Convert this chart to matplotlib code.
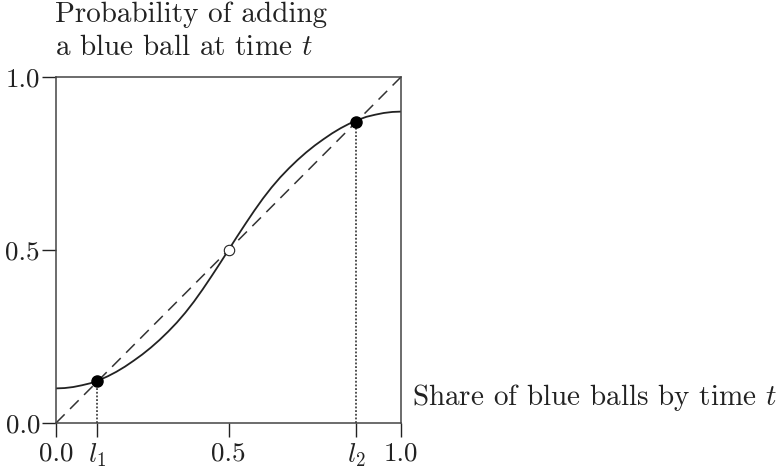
import matplotlib
matplotlib.use("Agg")
import matplotlib.pyplot as plt

plt.rcParams["font.family"] = ["cmr10"]
plt.rcParams["mathtext.fontset"] = "cm"
plt.rcParams["axes.formatter.use_mathtext"] = True

# curve: share of blue balls -> probability of adding one
share = [0.000, 0.025, 0.050, 0.075, 0.100, 0.125, 0.150, 0.175, 0.200, 0.225,
         0.250, 0.275, 0.300, 0.325, 0.350, 0.375, 0.400, 0.425, 0.450, 0.475,
         0.500, 0.525, 0.550, 0.575, 0.600, 0.625, 0.650, 0.675, 0.700, 0.725,
         0.750, 0.775, 0.800, 0.825, 0.850, 0.875, 0.900, 0.925, 0.950, 0.975,
         1.000]
prob = [0.100, 0.101, 0.104, 0.109, 0.115, 0.124, 0.135, 0.148, 0.163, 0.180,
        0.198, 0.218, 0.240, 0.264, 0.290, 0.319, 0.351, 0.386, 0.423, 0.461,
        0.500, 0.539, 0.577, 0.614, 0.649, 0.681, 0.710, 0.736, 0.760, 0.782,
        0.802, 0.820, 0.837, 0.852, 0.865, 0.876, 0.885, 0.891, 0.896, 0.899,
        0.900]

stable_pts = [0.12, 0.87]     # l1, l2
unstable_pt = 0.5
xticks = [0.0, 0.12, 0.5, 0.87, 1.0]
xtick_labels = ["0.0", "$l_1$", "0.5", "$l_2$", "1.0"]
yticks = [0.0, 0.5, 1.0]
ytick_labels = ["0.0", "0.5", "1.0"]

ink = "#222222"

fig = plt.figure(figsize=(7.82, 4.70), dpi=100)
ax = fig.add_axes([56 / 782, 47 / 470, 345 / 782, 346 / 470])

ax.plot([0, 1], [0, 1], ls=(0, (8, 5)), color="#333333", lw=1.1)
ax.plot(share, prob, color=ink, lw=1.3)

for l in stable_pts:
    ax.plot([l, l], [0, l], ls=(0, (1.2, 1.2)), color=ink, lw=1.1)
    ax.plot(l, l, "o", ms=8, color="black", zorder=5)
ax.plot(unstable_pt, unstable_pt, "o", ms=7.5, mfc="white", mec=ink, mew=0.8, zorder=5)

ax.set_xlim(0, 1)
ax.set_ylim(0, 1)
ax.set_xticks(xticks)
ax.set_xticklabels(xtick_labels)
ax.set_yticks(yticks)
ax.set_yticklabels(ytick_labels)
ax.tick_params(direction="out", length=10, width=1.0, color=ink, labelsize=19.5,
               labelcolor=ink)
ax.tick_params(axis="x", pad=3.5)
ax.tick_params(axis="y", pad=1.5)
for s in ax.spines.values():
    s.set_color("#444444")
    s.set_linewidth(1.1)

fig.text(55 / 782, 1 - 22 / 470, "Probability of adding", fontsize=21,
         color=ink, va="baseline", ha="left")
fig.text(55 / 782, 1 - 55 / 470, "a blue ball at time $t$", fontsize=21,
         color=ink, va="baseline", ha="left")
fig.text(412 / 782, 1 - 405 / 470, "Share of blue balls by time $t$", fontsize=21,
         color=ink, va="baseline", ha="left")

fig.savefig("out.png", dpi=100)
